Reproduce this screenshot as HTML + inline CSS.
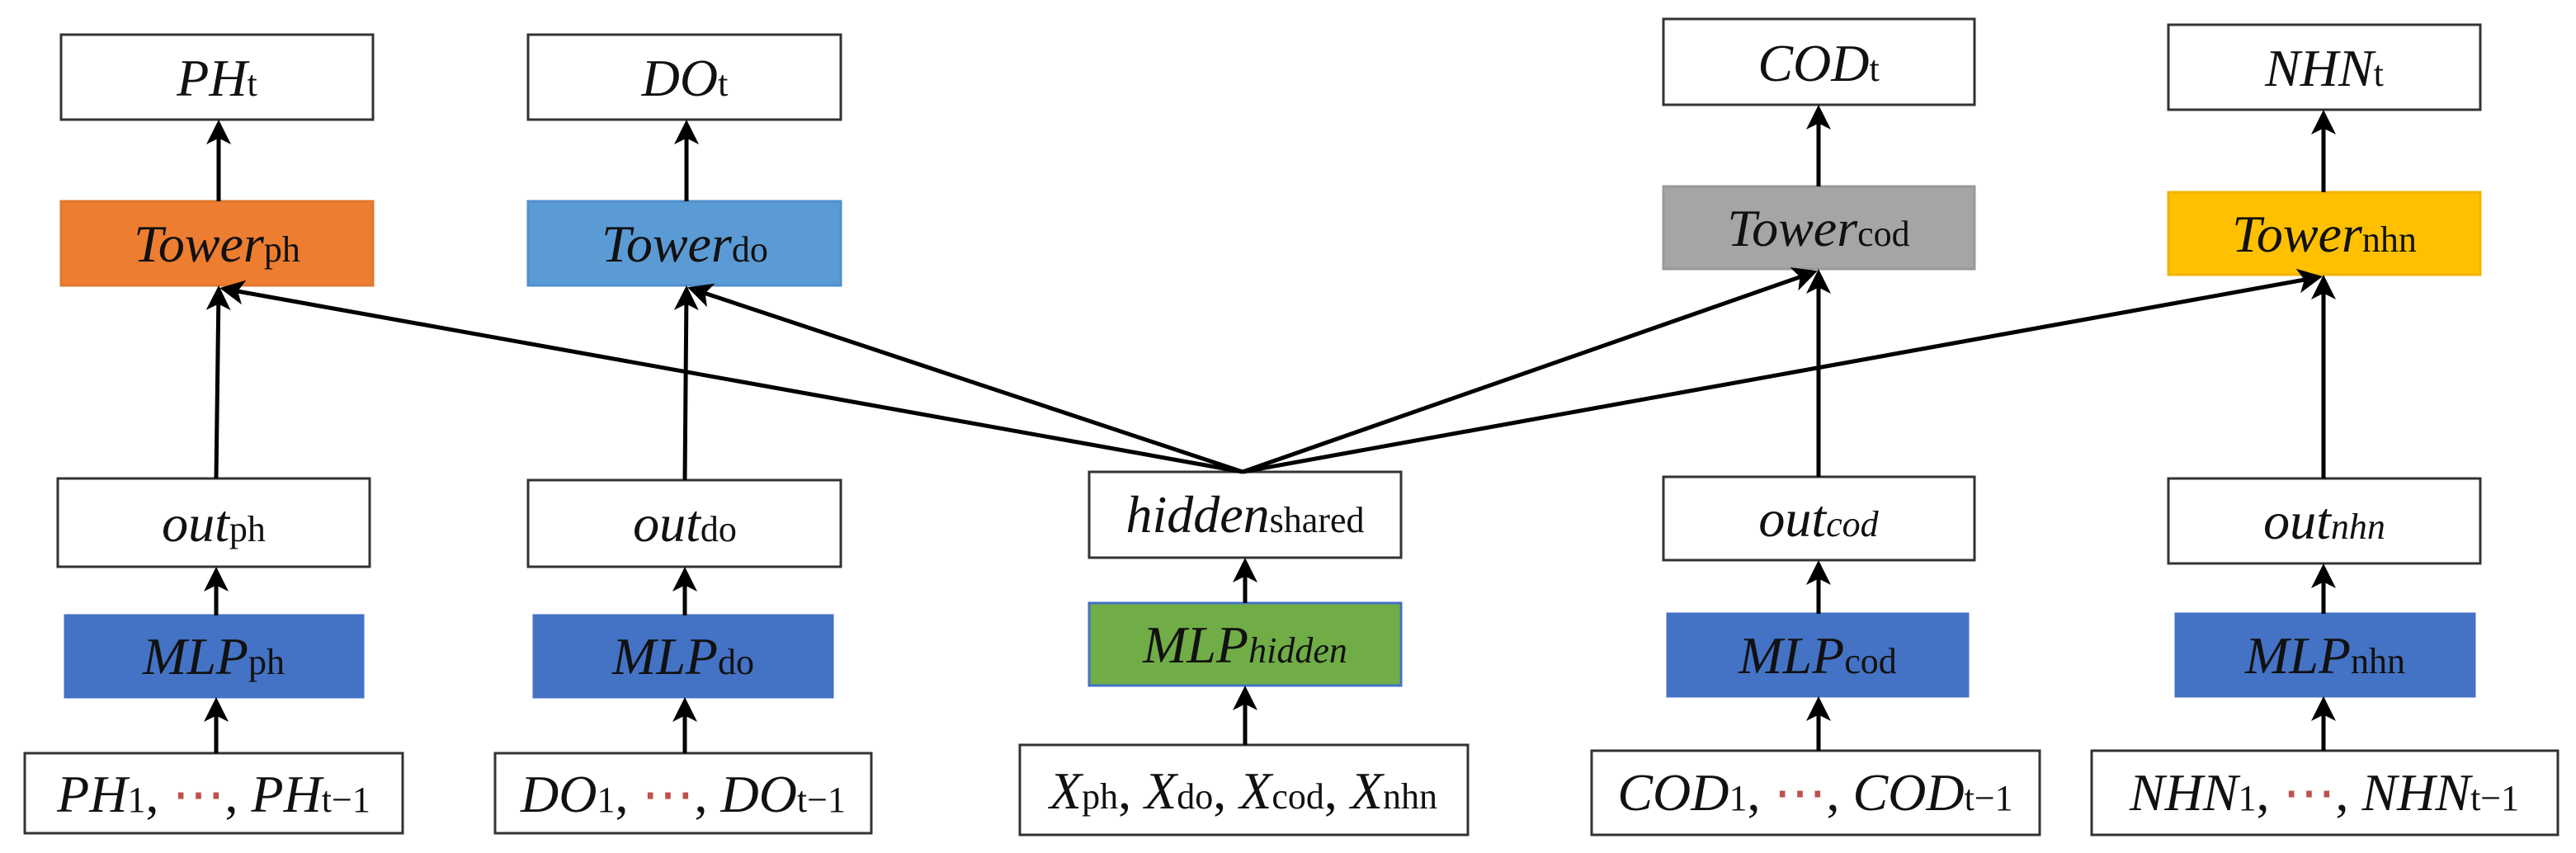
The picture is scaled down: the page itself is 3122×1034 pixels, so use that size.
<!DOCTYPE html>
<html><head><meta charset="utf-8"><style>
html,body{margin:0;padding:0;background:#fff;}
svg{display:block;}
text{font-family:"Liberation Serif",serif;font-style:italic;font-size:64px;fill:#111;text-anchor:middle;}
.s{font-style:normal;font-size:44px;}
.si{font-style:italic;font-size:44px;}
.dots{font-style:normal;fill:#c0504d;}
rect{stroke-width:3;}
</style></head><body>
<svg width="3122" height="1034" viewBox="0 0 3122 1034" xmlns="http://www.w3.org/2000/svg">
<defs>
<marker id="a" markerWidth="6" markerHeight="6" refX="5" refY="3" orient="auto" markerUnits="strokeWidth">
<path d="M0,0 L6,3 L0,6 L1.5,3 Z" fill="#000"/>
</marker>
</defs>
<!-- boxes -->
<g stroke="#333" fill="#fff">
<rect x="74" y="42" width="378" height="103"/>
<rect x="640" y="42" width="379" height="103"/>
<rect x="2016" y="23" width="377" height="104"/>
<rect x="2628" y="30" width="378" height="103"/>
<rect x="70" y="580" width="378" height="107"/>
<rect x="640" y="582" width="379" height="105"/>
<rect x="1320" y="572" width="378" height="104"/>
<rect x="2016" y="578" width="377" height="101"/>
<rect x="2628" y="580" width="378" height="103"/>
<rect x="30" y="913" width="458" height="97"/>
<rect x="600" y="913" width="456" height="97"/>
<rect x="1236" y="903" width="543" height="109"/>
<rect x="1929" y="910" width="543" height="102"/>
<rect x="2535" y="910" width="565" height="102"/>
</g>
<g stroke-width="2">
<rect x="74" y="244" width="378" height="102" fill="#ED7D31" stroke="#E0782E"/>
<rect x="640" y="244" width="379" height="102" fill="#5B9BD5" stroke="#4F8FCB"/>
<rect x="2016" y="226" width="377" height="100" fill="#A5A5A5" stroke="#999"/>
<rect x="2628" y="233" width="378" height="100" fill="#FFC000" stroke="#F0B400"/>
<rect x="79" y="746" width="361" height="99" fill="#4472C4" stroke="#4472C4"/>
<rect x="647" y="746" width="362" height="99" fill="#4472C4" stroke="#4472C4"/>
<rect x="1320" y="731" width="378" height="100" fill="#70AD47" stroke="#4472C4"/>
<rect x="2021" y="744" width="364" height="100" fill="#4472C4" stroke="#4472C4"/>
<rect x="2637" y="744" width="362" height="100" fill="#4472C4" stroke="#4472C4"/>
</g>
<!-- arrows -->
<g stroke="#000" stroke-width="5" fill="none" marker-end="url(#a)">
<line x1="265" y1="244" x2="265" y2="150"/>
<line x1="832" y1="244" x2="832" y2="150"/>
<line x1="2204" y1="226" x2="2204" y2="132"/>
<line x1="2816" y1="233" x2="2816" y2="138"/>
<line x1="262" y1="580" x2="265" y2="351"/>
<line x1="830" y1="582" x2="832" y2="351"/>
<line x1="2204" y1="578" x2="2204" y2="331"/>
<line x1="2816" y1="580" x2="2816" y2="338"/>
<line x1="262" y1="746" x2="262" y2="692"/>
<line x1="830" y1="746" x2="830" y2="692"/>
<line x1="1509" y1="731" x2="1509" y2="681"/>
<line x1="2204" y1="744" x2="2204" y2="684"/>
<line x1="2816" y1="744" x2="2816" y2="688"/>
<line x1="262" y1="913" x2="262" y2="850"/>
<line x1="830" y1="913" x2="830" y2="850"/>
<line x1="1509" y1="903" x2="1509" y2="836"/>
<line x1="2204" y1="910" x2="2204" y2="849"/>
<line x1="2816" y1="910" x2="2816" y2="849"/>
<line x1="1506" y1="572" x2="271" y2="350"/>
<line x1="1506" y1="572" x2="838" y2="350"/>
<line x1="1506" y1="572" x2="2198" y2="330"/>
<line x1="1506" y1="572" x2="2810" y2="336"/>
</g>
<!-- labels -->
<text x="263" y="116">PH<tspan class="s">t</tspan></text>
<text x="830" y="116">DO<tspan class="s">t</tspan></text>
<text x="2204" y="98">COD<tspan class="s">t</tspan></text>
<text x="2817" y="104">NHN<tspan class="s">t</tspan></text>
<text x="263" y="317">Tower<tspan class="s">ph</tspan></text>
<text x="830" y="317">Tower<tspan class="s">do</tspan></text>
<text x="2204" y="298">Tower<tspan class="s">cod</tspan></text>
<text x="2817" y="305">Tower<tspan class="s">nhn</tspan></text>
<text x="259" y="656">out<tspan class="s">ph</tspan></text>
<text x="830" y="656">out<tspan class="s">do</tspan></text>
<text x="1509" y="645">hidden<tspan class="s">shared</tspan></text>
<text x="2204" y="650">out<tspan class="si">cod</tspan></text>
<text x="2817" y="653">out<tspan class="si">nhn</tspan></text>
<text x="259" y="817">MLP<tspan class="s">ph</tspan></text>
<text x="828" y="817">MLP<tspan class="s">do</tspan></text>
<text x="1509" y="803">MLP<tspan class="si">hidden</tspan></text>
<text x="2203" y="816">MLP<tspan class="s">cod</tspan></text>
<text x="2818" y="816">MLP<tspan class="s">nhn</tspan></text>
<text x="259" y="984">PH<tspan class="s">1</tspan><tspan style="font-style:normal">, </tspan><tspan class="dots">⋯</tspan><tspan style="font-style:normal">, </tspan>PH<tspan class="s">t−1</tspan></text>
<text x="828" y="984">DO<tspan class="s">1</tspan><tspan style="font-style:normal">, </tspan><tspan class="dots">⋯</tspan><tspan style="font-style:normal">, </tspan>DO<tspan class="s">t−1</tspan></text>
<text x="1507" y="980">X<tspan class="s">ph</tspan><tspan style="font-style:normal">, </tspan>X<tspan class="s">do</tspan><tspan style="font-style:normal">, </tspan>X<tspan class="s">cod</tspan><tspan style="font-style:normal">, </tspan>X<tspan class="s">nhn</tspan></text>
<text x="2200" y="982">COD<tspan class="s">1</tspan><tspan style="font-style:normal">, </tspan><tspan class="dots">⋯</tspan><tspan style="font-style:normal">, </tspan>COD<tspan class="s">t−1</tspan></text>
<text x="2817" y="982">NHN<tspan class="s">1</tspan><tspan style="font-style:normal">, </tspan><tspan class="dots">⋯</tspan><tspan style="font-style:normal">, </tspan>NHN<tspan class="s">t−1</tspan></text>
</svg>
</body></html>
